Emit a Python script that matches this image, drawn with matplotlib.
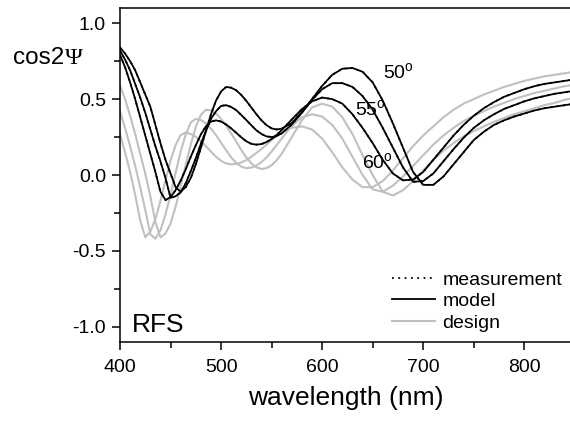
import matplotlib
matplotlib.use("Agg")
import matplotlib.pyplot as plt
from matplotlib.ticker import MultipleLocator

plt.rcParams['font.family'] = ['Liberation Sans', 'DejaVu Sans']
plt.rcParams['mathtext.fontset'] = 'custom'
plt.rcParams['mathtext.rm'] = 'Liberation Sans'

# wavelength grid (nm)
wl = [400, 405, 410, 415, 420, 425, 430, 435, 440, 445, 450, 455, 460, 465, 470, 475,
      480, 485, 490, 495, 500, 505, 510, 515, 520, 525, 530, 535, 540, 545, 550, 555,
      560, 570, 580, 590, 600, 610, 620, 630, 640, 650, 660, 670, 680, 690, 700, 710,
      720, 730, 740, 750, 760, 770, 780, 790, 800, 810, 820, 830, 840, 850]

# model fits
model_50 = [0.84, 0.80, 0.75, 0.69, 0.61, 0.53, 0.45, 0.33, 0.21, 0.10, 0.01, -0.08, -0.11, -0.08, -0.02, 0.07,
            0.18, 0.29, 0.40, 0.49, 0.55, 0.58, 0.575, 0.558, 0.527, 0.488, 0.444, 0.40, 0.36, 0.328, 0.307, 0.30,
            0.305, 0.343, 0.415, 0.50, 0.587, 0.66, 0.70, 0.705, 0.68, 0.61, 0.49, 0.34, 0.18, 0.02, -0.065, -0.065,
            -0.01, 0.07, 0.15, 0.23, 0.285, 0.33, 0.36, 0.385, 0.405, 0.425, 0.44, 0.45, 0.46, 0.47]
model_55 = [0.82, 0.76, 0.69, 0.60, 0.51, 0.41, 0.30, 0.19, 0.09, -0.02, -0.15, -0.14, -0.115, -0.055, 0.025, 0.11,
            0.205, 0.29, 0.37, 0.42, 0.455, 0.46, 0.448, 0.427, 0.395, 0.362, 0.327, 0.294, 0.27, 0.254, 0.25, 0.257,
            0.274, 0.333, 0.41, 0.495, 0.565, 0.605, 0.605, 0.58, 0.52, 0.43, 0.31, 0.18, 0.05, -0.045, -0.04, 0.01,
            0.09, 0.17, 0.245, 0.31, 0.36, 0.40, 0.435, 0.46, 0.485, 0.505, 0.52, 0.535, 0.545, 0.555]
model_60 = [0.79, 0.71, 0.61, 0.50, 0.38, 0.26, 0.14, 0.02, -0.11, -0.165, -0.146, -0.10, -0.037, 0.037, 0.12, 0.196,
            0.267, 0.32, 0.352, 0.36, 0.352, 0.333, 0.307, 0.278, 0.248, 0.222, 0.205, 0.20, 0.204, 0.217, 0.237, 0.264,
            0.296, 0.366, 0.434, 0.485, 0.51, 0.50, 0.47, 0.40, 0.31, 0.21, 0.10, 0.01, -0.035, -0.03, 0.02, 0.10,
            0.18, 0.26, 0.33, 0.39, 0.44, 0.48, 0.515, 0.54, 0.565, 0.585, 0.60, 0.61, 0.62, 0.63]

# measured data (lies on top of the model)
meas_50 = model_50
meas_55 = model_55
meas_60 = model_60

# design curves
design_50 = [0.59, 0.50, 0.39, 0.27, 0.14, 0.01, -0.14, -0.31, -0.41, -0.386, -0.32, -0.21, -0.074, 0.066, 0.20, 0.317,
             0.396, 0.43, 0.425, 0.405, 0.37, 0.325, 0.274, 0.22, 0.165, 0.115, 0.077, 0.05, 0.04, 0.045, 0.064, 0.097,
             0.14, 0.25, 0.36, 0.445, 0.47, 0.45, 0.38, 0.27, 0.13, 0.00, -0.11, -0.135, -0.10, -0.04, 0.03, 0.10,
             0.16, 0.21, 0.255, 0.29, 0.32, 0.35, 0.375, 0.40, 0.42, 0.44, 0.46, 0.475, 0.495, 0.51]
design_55 = [0.42, 0.31, 0.19, 0.06, -0.08, -0.23, -0.39, -0.42, -0.364, -0.26, -0.13, 0.014, 0.154, 0.266, 0.346, 0.37,
             0.362, 0.34, 0.305, 0.263, 0.212, 0.164, 0.116, 0.08, 0.055, 0.045, 0.049, 0.062, 0.085, 0.116, 0.155, 0.197,
             0.24, 0.322, 0.38, 0.40, 0.385, 0.33, 0.24, 0.12, 0.00, -0.095, -0.11, -0.07, -0.01, 0.06, 0.13, 0.20,
             0.26, 0.31, 0.355, 0.39, 0.42, 0.45, 0.475, 0.50, 0.52, 0.54, 0.555, 0.57, 0.585, 0.595]
design_60 = [0.27, 0.15, 0.02, -0.13, -0.30, -0.41, -0.373, -0.29, -0.172, -0.037, 0.094, 0.197, 0.263, 0.28, 0.27, 0.252,
             0.223, 0.19, 0.154, 0.12, 0.093, 0.076, 0.07, 0.073, 0.083, 0.098, 0.12, 0.145, 0.172, 0.20, 0.23, 0.255,
             0.28, 0.312, 0.32, 0.30, 0.24, 0.15, 0.05, -0.03, -0.08, -0.08, -0.04, 0.03, 0.11, 0.19, 0.26, 0.32,
             0.38, 0.43, 0.47, 0.50, 0.53, 0.555, 0.58, 0.60, 0.62, 0.635, 0.65, 0.66, 0.67, 0.68]

gray = '#c0c0c0'
dots = (0, (1, 2.5))

fig = plt.figure(figsize=(5.70, 4.21), dpi=100)
ax = fig.add_axes([120 / 570, 79 / 421, 454.8 / 570, 334 / 421])

for d in [design_50, design_55, design_60]:
    ax.plot(wl, d, color=gray, lw=1.5, zorder=2)
for m in [model_50, model_55, model_60]:
    ax.plot(wl, m, color='black', lw=1.3, zorder=3)
for s in [meas_50, meas_55, meas_60]:
    ax.plot(wl, s, color='black', lw=1.3, ls=dots, zorder=4)

ax.set_xlim(400, 850)
ax.set_ylim(-1.1, 1.1)
ax.xaxis.set_major_locator(MultipleLocator(100))
ax.xaxis.set_minor_locator(MultipleLocator(50))
ax.yaxis.set_major_locator(MultipleLocator(0.5))
ax.yaxis.set_minor_locator(MultipleLocator(0.25))
ax.yaxis.set_major_formatter(plt.FuncFormatter(lambda v, p: f"{v:.1f}".replace('\u2212', '-')))
ax.tick_params(which='both', direction='out', top=False, right=False, labelsize=14, width=1.1)
ax.tick_params(axis='y', which='major', length=6, pad=4)
ax.tick_params(axis='x', which='major', length=6, pad=6)
ax.tick_params(which='minor', length=4)
for sp in ax.spines.values():
    sp.set_linewidth(1.1)

# angle labels
ax.text(660, 0.634, r'50$^{\mathrm{o}}$', fontsize=14)
ax.text(632.5, 0.39, r'55$^{\mathrm{o}}$', fontsize=14)
ax.text(639.4, 0.04, r'60$^{\mathrm{o}}$', fontsize=14)
ax.text(412, -1.036, 'RFS', fontsize=19)

# axis labels
fig.text(13 / 570, 1 - 64 / 421, 'cos2', fontsize=17.5, va='baseline')
fig.text(65 / 570, 1 - 64 / 421, '\u03a8', fontsize=17.5, va='baseline', family='Liberation Serif')
fig.text(345.5 / 570, 1 - 405 / 421, 'wavelength (nm)', fontsize=19, ha='center', va='baseline')

# legend
h1, = ax.plot([], [], color='black', lw=1.3, ls=dots)
h2, = ax.plot([], [], color='black', lw=1.3)
h3, = ax.plot([], [], color=gray, lw=1.5)
fig.legend([h1, h2, h3], ['measurement', 'model', 'design'], loc='upper left',
           bbox_to_anchor=(392 / 570, 1 - 271 / 421), frameon=False, fontsize=14,
           handlelength=2.2, handletextpad=0.4, labelspacing=0.2, borderpad=0, borderaxespad=0)

fig.savefig('out.png', dpi=100)
